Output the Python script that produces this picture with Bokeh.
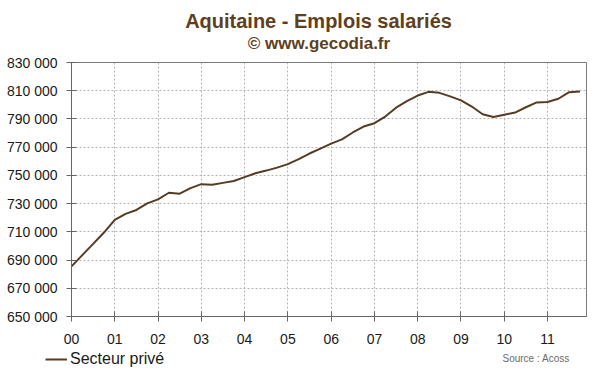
from bokeh.plotting import figure
from bokeh.layouts import column, row
from bokeh.models import Range1d, FixedTicker, Label, Legend, LegendItem
from bokeh.embed import file_html
from bokeh.resources import INLINE

# ---- data (quarterly, 2000 Q1 .. 2011 Q4) ----
years = list(range(2000, 2012))
quarters = [y + q / 4 for y in years for q in range(4)]
secteur_prive = [
    685500, 693500, 701500, 709500,
    718500, 722700, 725500, 730200,
    733000, 737700, 737000, 741000,
    743800, 743300, 744700, 746000,
    748800, 751500, 753400, 755500,
    758000, 761500, 765500, 769000,
    772500, 775500, 780400, 784600,
    787000, 791700, 798000, 802600,
    806600, 809200, 808500, 806000,
    803200, 798800, 793300, 791400,
    793000, 794500, 798300, 801700,
    802000, 804300, 809000, 809400,
]
x_tick_labels = ["00", "01", "02", "03", "04", "05", "06", "07", "08", "09", "10", "11"]
y_ticks = list(range(650000, 830001, 20000))
y_tick_labels = [f"{v // 1000} 000" for v in y_ticks]

title_text = "Aquitaine - Emplois salariés"
subtitle_text = "© www.gecodia.fr"
source_text = "Source : Acoss"
series_name = "Secteur privé"

# ---- styling ----
BROWN = "#5E4020"
LINE = "#553C22"
FONT = "Liberation Sans"
W = 600
TOP_H = 54          # header strip (titles)
MAIN_H = 295        # chart strip
BOT_H = 372 - TOP_H - MAIN_H   # legend / source strip


def strip(height, y_top):
    f = figure(width=W, height=height, output_backend="svg", toolbar_location=None,
               x_range=Range1d(0, W), y_range=Range1d(y_top + height, y_top),
               x_axis_location=None, y_axis_location=None,
               min_border=0, min_border_left=0, min_border_right=0,
               min_border_top=0, min_border_bottom=0)
    f.outline_line_color = None
    f.grid.visible = False
    f.background_fill_color = "white"
    f.border_fill_color = "white"
    return f


# ---- header ----
top = strip(TOP_H, 0)
top.add_layout(Label(x=318, y=20.5, text=title_text, text_align="center",
                     text_baseline="middle", text_font=FONT, text_font_size="20px",
                     text_font_style="bold", text_color=BROWN))
top.add_layout(Label(x=318.5, y=43, text=subtitle_text, text_align="center",
                     text_baseline="middle", text_font=FONT, text_font_size="17px",
                     text_font_style="bold", text_color=BROWN))

# ---- main chart ----
X0, X1 = 2000, 2011.9
Y0, Y1 = 650000, 830000

p = figure(width=W, height=MAIN_H, output_backend="svg", toolbar_location=None,
           x_range=Range1d(X0, X1), y_range=Range1d(Y0, Y1),
           min_border_left=71, min_border_right=14, min_border_top=62 - TOP_H,
           min_border_bottom=TOP_H + MAIN_H - 316)
p.background_fill_color = "white"
p.border_fill_color = "white"
p.outline_line_color = "#7a7a7a"
p.outline_line_width = 1

line = p.line(quarters, secteur_prive, line_color=LINE, line_width=2)

p.xaxis.ticker = FixedTicker(ticks=years)
p.xaxis.major_label_overrides = {y: s for y, s in zip(years, x_tick_labels)}
p.yaxis.ticker = FixedTicker(ticks=y_ticks)
p.yaxis.major_label_overrides = {v: s for v, s in zip(y_ticks, y_tick_labels)}
for ax in (p.xaxis, p.yaxis):
    ax.axis_line_color = "#666666"
    ax.major_tick_line_color = "#666666"
    ax.major_tick_in = 5
    ax.major_tick_out = 5
    ax.minor_tick_line_color = None
    ax.major_label_text_font = FONT
    ax.major_label_text_font_size = "14px"
    ax.major_label_text_color = "#1a1a1a"
p.yaxis.major_label_standoff = 9
p.xaxis.major_label_standoff = 12

for g in (p.xgrid, p.ygrid):
    g.grid_line_color = "#b4b4b4"
    g.grid_line_dash = "2 2"
    g.grid_line_width = 1

# ---- footer (legend + source) ----
bot = strip(BOT_H, TOP_H + MAIN_H)
# legend key renderer: same series, lies outside this strip's ranges so only the key shows
key = bot.line(quarters, secteur_prive, line_color=LINE, line_width=2)
legend = Legend(items=[LegendItem(label=series_name, renderers=[key])],
                location=(45, 4), orientation="horizontal",
                padding=0, margin=0, spacing=0,
                glyph_width=22, glyph_height=16, label_height=16, label_standoff=3,
                label_text_font=FONT, label_text_font_size="16px", label_text_color="#1a1a1a",
                border_line_color=None, background_fill_alpha=0)
bot.add_layout(legend, "center")
bot.add_layout(Label(x=502, y=357.5, text=source_text, text_align="left",
                     text_baseline="middle", text_font=FONT, text_font_size="10px",
                     text_color="#6e6a66"))

layout = column(row(top), p, row(bot), spacing=0)
open("out.html", "w").write(file_html(layout, INLINE))
